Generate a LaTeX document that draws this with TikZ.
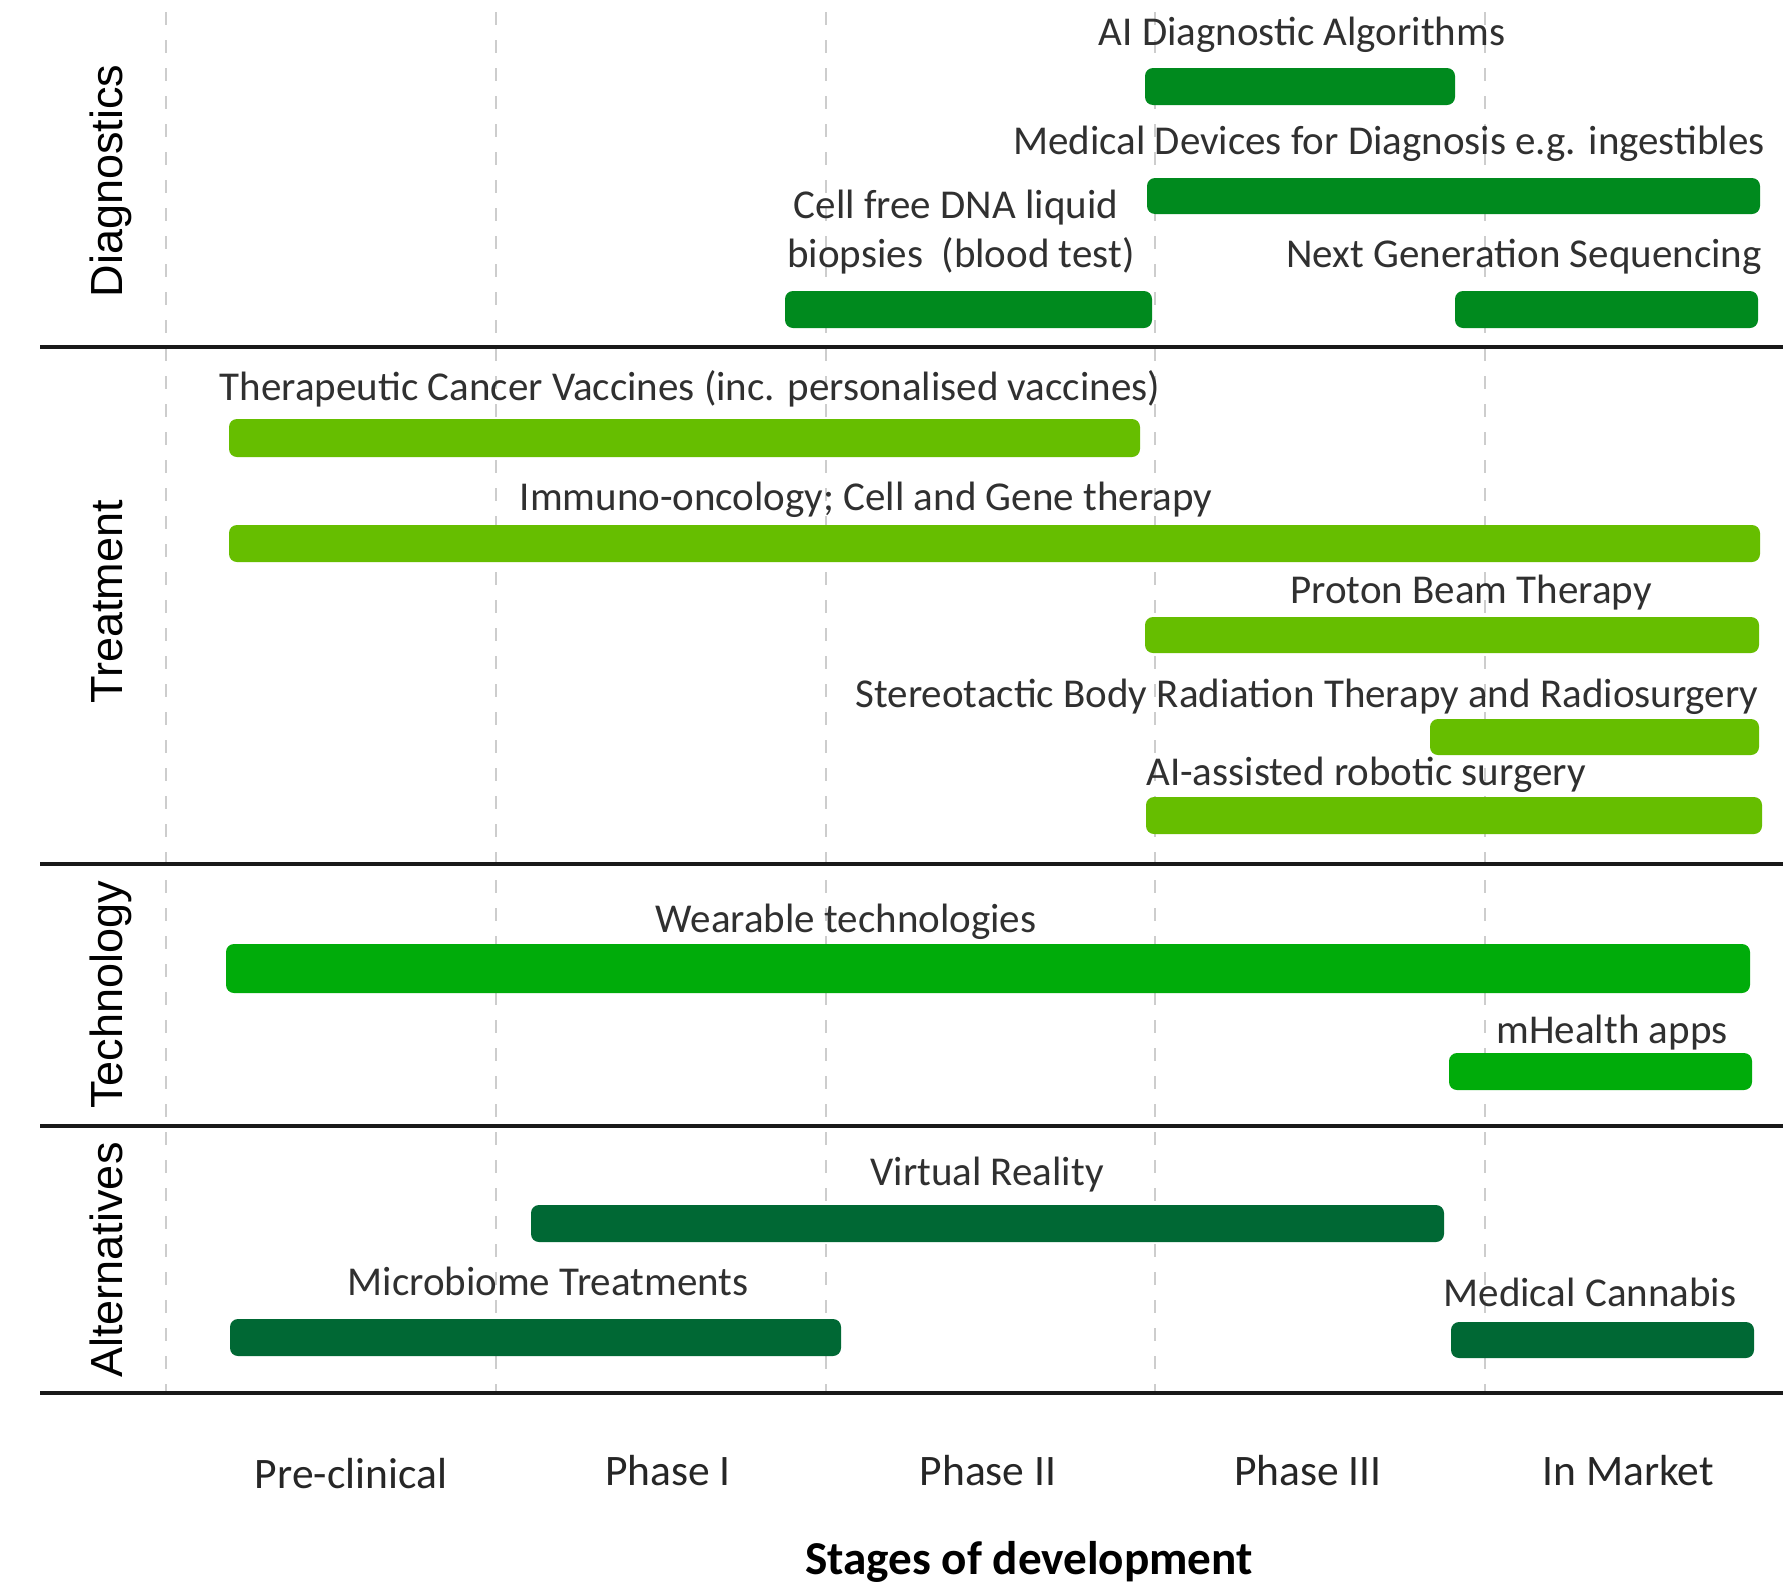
\documentclass[tikz,border=0pt]{standalone}
\usepackage{fontspec}
\setmainfont{Carlito}
\newfontfamily\catfont{Liberation Sans}
\usetikzlibrary{fit}

\definecolor{diagGreen}{RGB}{0,138,30}
\definecolor{treatGreen}{RGB}{102,190,0}
\definecolor{techGreen}{RGB}{0,172,10}
\definecolor{altGreen}{RGB}{0,104,52}
\definecolor{txtGray}{RGB}{48,48,48}
\definecolor{guideGray}{RGB}{205,205,205}

\tikzset{
  x=0.5pt, y=-0.5pt,
  lbl/.style={font=\fontsize{20.5}{24}\selectfont, text=txtGray, anchor=base, inner sep=0pt},
  phaselbl/.style={font=\fontsize{21.75}{26}\selectfont, text=black!85, anchor=base, inner sep=0pt},
  axislbl/.style={font=\bfseries\fontsize{23.6}{28}\selectfont, text=black, anchor=base, inner sep=0pt},
  catlbl/.style={font=\catfont\fontsize{22.5}{27}\selectfont, text=black, rotate=90, anchor=base, inner sep=0pt},
  stagebar/.style={fill=#1, draw=none, rounded corners=4pt, inner sep=0pt},
  guide/.style={draw=guideGray, line width=1pt, dash pattern=on 6.5pt off 7.5pt},
  divider/.style={draw=black!90, line width=1.75pt},
}

\begin{document}
\begin{tikzpicture}
\useasboundingbox[fill=white] (0,0) rectangle (1783,1585);

% stage guide lines
\foreach \gx in {166,496,826,1155,1485}
  \draw[guide] (\gx,12) -- (\gx,1393);

% section dividers
\foreach \dy in {347,864,1126,1393}
  \draw[divider] (40,\dy) -- (1783,\dy);

% category labels
\node[catlbl] (catDiag) at (122,181) {Diagnostics};
\node[catlbl] (catTreat) at (122,602) {Treatment};
\node[catlbl] (catTech) at (122,995) {Technology};
\node[catlbl] (catAlt) at (122,1260) {Alternatives};

% ---- Diagnostics ----
\node[lbl] (aiDiagLbl) at (1302,45) {AI Diagnostic Algorithms};
\node[stagebar=diagGreen, fit={(1145,68) (1455,105)}] (aiDiagBar) {};
\node[lbl] (medDevLbl) at (1389,154) {Medical Devices for Diagnosis e.g. ingestibles};
\node[stagebar=diagGreen, fit={(1147,178) (1760,214)}] (medDevBar) {};
\node[lbl] (cfDnaLblA) at (956,218) {Cell free DNA liquid};
\node[lbl] (cfDnaLblB) at (961,267) {biopsies~ (blood test)};
\node[stagebar=diagGreen, fit={(785,291) (1152,328)}] (cfDnaBar) {};
\node[lbl] (ngsLbl) at (1524,267) {Next Generation Sequencing};
\node[stagebar=diagGreen, fit={(1455,291) (1758,328)}] (ngsBar) {};

% ---- Treatment ----
\node[lbl] (vaccLbl) at (690,400) {Therapeutic Cancer Vaccines (inc. personalised vaccines)};
\node[stagebar=treatGreen, fit={(229,419) (1140,457)}] (vaccBar) {};
\node[lbl] (immLbl) at (866,510) {Immuno-oncology; Cell and Gene therapy};
\node[stagebar=treatGreen, fit={(229,525) (1760,562)}] (immBar) {};
\node[lbl] (protonLbl) at (1471,603) {Proton Beam Therapy};
\node[stagebar=treatGreen, fit={(1145,617) (1759,653)}] (protonBar) {};
\node[lbl] (sbrtLbl) at (1307,707) {Stereotactic Body Radiation Therapy and Radiosurgery};
\node[stagebar=treatGreen, fit={(1430,719) (1759,755)}] (sbrtBar) {};
\node[lbl] (robotLbl) at (1366,785) {AI-assisted robotic surgery};
\node[stagebar=treatGreen, fit={(1146,797) (1762,834)}] (robotBar) {};

% ---- Technology ----
\node[lbl] (wearLbl) at (846,932) {Wearable technologies};
\node[stagebar=techGreen, fit={(226,944) (1750,993)}] (wearBar) {};
\node[lbl] (mhealthLbl) at (1612,1043) {mHealth apps};
\node[stagebar=techGreen, fit={(1449,1053) (1752,1090)}] (mhealthBar) {};

% ---- Alternatives ----
\node[lbl] (vrLbl) at (987,1185) {Virtual Reality};
\node[stagebar=altGreen, fit={(531,1205) (1444,1242)}] (vrBar) {};
\node[lbl] (microLbl) at (548,1295) {Microbiome Treatments};
\node[stagebar=altGreen, fit={(230,1319) (841,1356)}] (microBar) {};
\node[lbl] (cannaLbl) at (1590,1306) {Medical Cannabis};
\node[stagebar=altGreen, fit={(1451,1322) (1754,1358)}] (cannaBar) {};

% ---- stage axis ----
\node[phaselbl] (phPre) at (351,1488) {Pre-clinical};
\node[phaselbl] (phOne) at (668,1485) {Phase I};
\node[phaselbl] (phTwo) at (988,1485) {Phase II};
\node[phaselbl] (phThree) at (1308,1485) {Phase III};
\node[phaselbl] (phMarket) at (1628,1485) {In Market};
\node[axislbl] (axisTitle) at (1029,1574) {Stages of development};
\end{tikzpicture}
\end{document}
